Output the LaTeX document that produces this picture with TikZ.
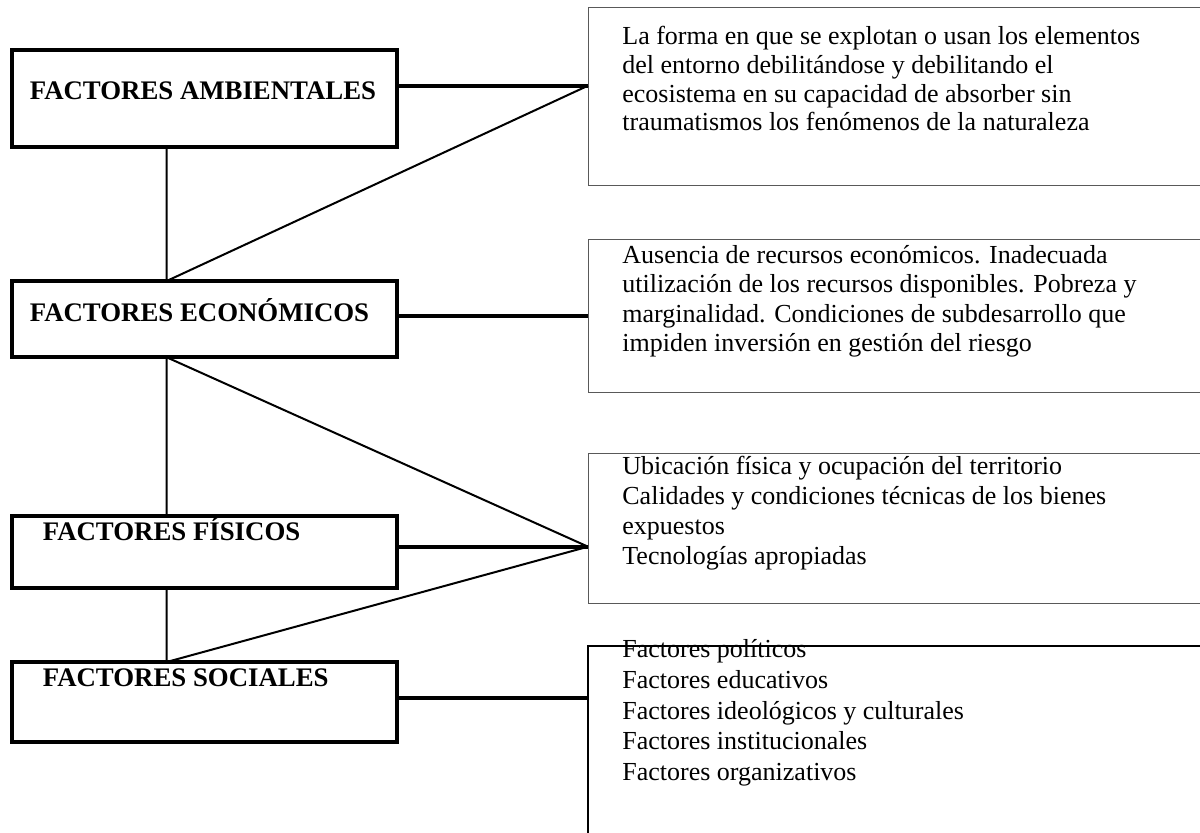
\documentclass[tikz,border=0pt]{standalone}
\usepackage{fontspec}
\setmainfont{Liberation Serif}
\usepackage{tikz}
\tikzset{>=latex}

\begin{document}
\begin{tikzpicture}[x=0.5pt, y=-0.5pt,
    lbox/.style={draw, line width=2pt, inner sep=0pt, outer sep=0pt, minimum width=192.35pt},
    rbox/.style={draw=black!65, line width=0.5pt, inner sep=0pt, outer sep=0pt, minimum width=311pt},
    ltext/.style={anchor=base west, inner sep=0pt, font=\fontsize{13.4}{15}\selectfont\bfseries},
    rtext/.style={anchor=base west, inner sep=0pt, align=left},
    link/.style={line width=2pt},
    tie/.style={line width=1pt}]
    \useasboundingbox(0, 0)rectangle(1200, 833);
    \clip(0, 0)rectangle(1200, 833);
    \fill[white](0, 0)rectangle(1200, 833);
    % factores
    \node[lbox, minimum height=48.35pt](amb)at(204.35, 98.35){};
    \node[lbox, minimum height=38.15pt](eco)at(204.35, 319.15){};
    \node[lbox, minimum height=36pt](fis)at(204.35, 552){};
    \node[lbox, minimum height=40pt](soc)at(204.35, 702){};
    \node[ltext](ambT)at(29.5, 100){FACTORES AMBIENTALES};
    \node[ltext](ecoT)at(29.5, 321.7){FACTORES ECONÓMICOS};
    \node[ltext](fisT)at(42.5, 541){FACTORES FÍSICOS};
    \node[ltext](socT)at(42.5, 687){FACTORES SOCIALES};
    % descripciones (base = ultima linea)
    \node[rbox, minimum height=89.35pt](ambD)at(899, 96.65){};
    \node[rbox, minimum height=76.7pt](ecoD)at(899, 316){};
    \node[rbox, minimum height=74.65pt](fisD)at(899, 528.65){};
    \node[rbox, draw=black, line width=1pt, minimum height=106.85pt](socD)at(899, 753.15){};
    \node[rtext, font=\fontsize{13}{14.35}\selectfont](ambL)at(622, 131){La forma en que se explotan o usan los elementos\\del entorno debilitándose y debilitando el\\ecosistema en su capacidad de absorber sin\\traumatismos los fenómenos de la naturaleza};
    \node[rtext, font=\fontsize{13}{14.7}\selectfont](ecoL)at(622, 351.6){Ausencia de recursos económicos. Inadecuada\\utilización de los recursos disponibles. Pobreza y\\marginalidad. Condiciones de subdesarrollo que\\impiden inversión en gestión del riesgo};
    \node[rtext, font=\fontsize{13}{15}\selectfont](fisL)at(622, 565){Ubicación física y ocupación del territorio\\Calidades y condiciones técnicas de los bienes\\expuestos\\Tecnologías apropiadas};
    \node[rtext, font=\fontsize{13}{15.5}\selectfont](socL)at(622, 781){Factores políticos\\Factores educativos\\Factores ideológicos y culturales\\Factores institucionales\\Factores organizativos};
    % uniones
    \coordinate(v)at(166.7, 0);
    \coordinate(pA)at(588, 85.7);
    \coordinate(pB)at(588, 316.3);
    \coordinate(pC)at(588, 546.7);
    \coordinate(pD)at(588, 698.3);
    \draw[link](amb.east |- pA)--(pA);
    \draw[link](eco.east |- pB)--(pB);
    \draw[link](fis.east |- pC)--(pC);
    \draw[link](soc.east |- pD)--(pD);
    \draw[tie](v |- amb.south)--(v |- eco.north)--(pA);
    \draw[tie](pC)--(v |- eco.south)--(v |- fis.north);
    \draw[tie](v |- fis.south)--(v |- soc.north)--(pC);
\end{tikzpicture}
\end{document}
